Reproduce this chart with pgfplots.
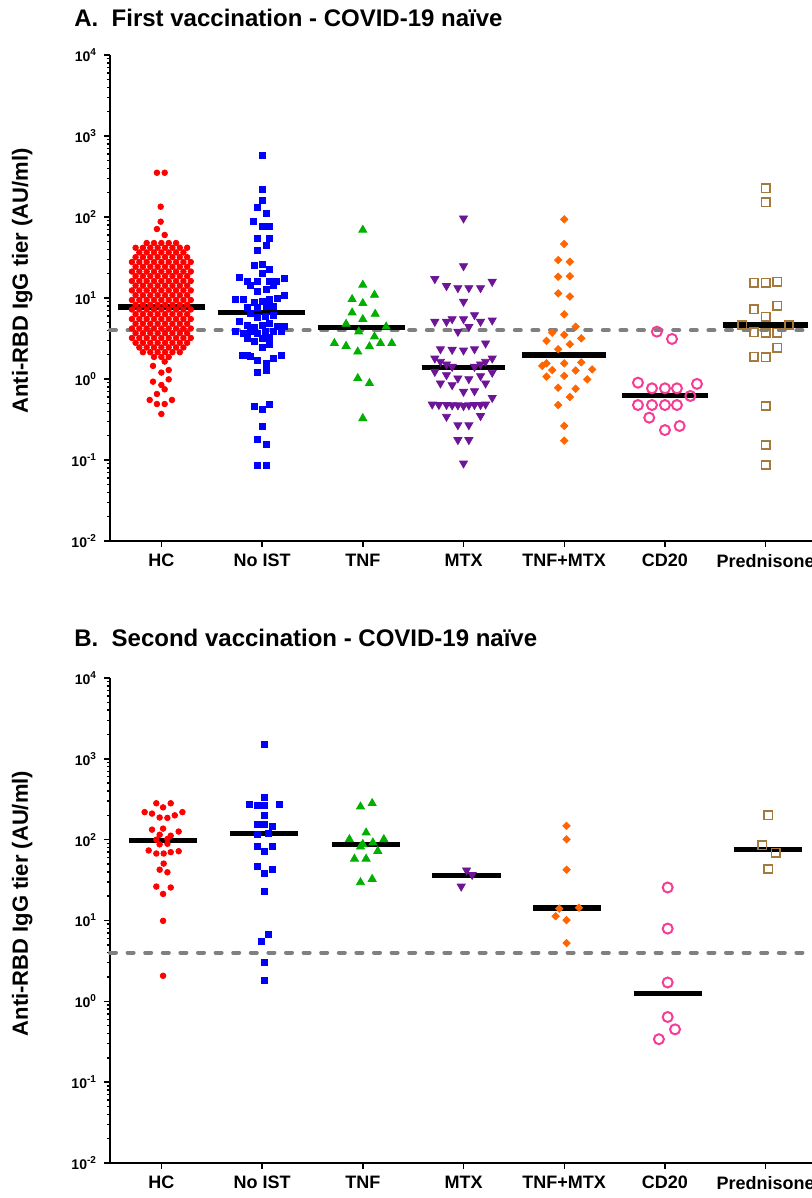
\documentclass[border=0pt]{standalone}
\usepackage{fontspec}
\setmainfont{Liberation Sans}
\usepackage{pgfplots}
\pgfplotsset{compat=1.18}

\definecolor{hc}{RGB}{255,0,0}
\definecolor{noist}{RGB}{0,0,255}
\definecolor{tnf}{RGB}{0,175,0}
\definecolor{mtx}{RGB}{110,20,150}
\definecolor{tnfmtx}{RGB}{255,102,0}
\definecolor{cdtwenty}{RGB}{245,60,150}
\definecolor{pred}{RGB}{165,120,60}
\definecolor{cutoff}{RGB}{128,128,128}

\pgfplotsset{
  medline/.style={black, line width=2.6pt, forget plot},
  cutline/.style={cutoff, line width=2pt, dash pattern=on 3pt off 5.8pt, line cap=round, forget plot},
  sHC/.style={only marks, mark=*, mark size=1.4pt, color=hc},
  sNO/.style={only marks, mark=square*, mark size=1.5pt, color=noist},
  sTNF/.style={only marks, mark=triangle*, mark size=2.3pt, color=tnf},
  sMTX/.style={only marks, mark=triangle*, mark size=2.3pt, color=mtx, mark options={rotate=180}},
  sTM/.style={only marks, mark=square*, mark size=1.3pt, color=tnfmtx, mark options={rotate=45}},
  sCD/.style={only marks, mark=o, mark size=2.5pt, color=cdtwenty, mark options={line width=1pt}},
  sPR/.style={only marks, mark=square, mark size=2.1pt, color=pred, mark options={line width=0.8pt}},
}

\begin{document}
\begin{tikzpicture}
% ---------------- A: first vaccination ----------------
\begin{axis}[
    at={(55pt,328.5pt)}, anchor=south west,
    scale only axis, width=351pt, height=243pt,
    ymode=log, ymin=1e-2, ymax=1e4,
    xmin=0.49, xmax=7.46,
    axis x line*=bottom, axis y line*=left,
    axis line style={line width=0.9pt, -},
    tick align=outside,
    major tick length=3pt, minor tick length=1.6pt,
    tick style={black, line width=0.7pt},
    xtick={1,2,3,4,5,6,7},
    xticklabels={HC,No IST,TNF,MTX,TNF+MTX,CD20,Prednisone},
    ytick={1e-2,1e-1,1,10,100,1000,10000},
    yticklabels={10\textsuperscript{-2},10\textsuperscript{-1},10\textsuperscript{0},10\textsuperscript{1},10\textsuperscript{2},10\textsuperscript{3},10\textsuperscript{4}},
    x tick label style={font=\bfseries\fontsize{9}{10}\selectfont},
    y tick label style={font=\bfseries\fontsize{7}{8}\selectfont},
    ylabel={Anti-RBD IgG tier (AU/ml)},
    ylabel style={at={(axis description cs:-0.125,0.535)}, anchor=center, font=\bfseries\fontsize{11}{12}\selectfont},
    clip=false,
]
\addplot[sHC] coordinates {
 (0.956,352) (1.033,352) (0.993,134) (0.993,87.5) (0.956,71) (1.033,60)
 (0.854,47.7) (0.927,47.7) (1,47.7) (1.073,47.7) (1.146,47.7)
 (0.744,41.7) (0.817,41.7) (0.890,41.7) (0.963,41.7) (1.037,41.7) (1.110,41.7) (1.183,41.7) (1.256,41.7)
 (0.781,36.5) (0.854,36.5) (0.927,36.5) (1,36.5) (1.073,36.5) (1.146,36.5) (1.219,36.5)
 (0.744,31.9) (0.817,31.9) (0.890,31.9) (0.963,31.9) (1.037,31.9) (1.110,31.9) (1.183,31.9) (1.256,31.9)
 (0.708,27.8) (0.781,27.8) (0.854,27.8) (0.927,27.8) (1,27.8) (1.073,27.8) (1.146,27.8) (1.219,27.8) (1.292,27.8)
 (0.744,24.3) (0.817,24.3) (0.890,24.3) (0.963,24.3) (1.037,24.3) (1.110,24.3) (1.183,24.3) (1.256,24.3)
 (0.708,21.2) (0.781,21.2) (0.854,21.2) (0.927,21.2) (1,21.2) (1.073,21.2) (1.146,21.2) (1.219,21.2) (1.292,21.2)
 (0.744,18.6) (0.817,18.6) (0.890,18.6) (0.963,18.6) (1.037,18.6) (1.110,18.6) (1.183,18.6) (1.256,18.6)
 (0.708,16.2) (0.781,16.2) (0.854,16.2) (0.927,16.2) (1,16.2) (1.073,16.2) (1.146,16.2) (1.219,16.2) (1.292,16.2)
 (0.744,14.2) (0.817,14.2) (0.890,14.2) (0.963,14.2) (1.037,14.2) (1.110,14.2) (1.183,14.2) (1.256,14.2)
 (0.708,12.4) (0.781,12.4) (0.854,12.4) (0.927,12.4) (1,12.4) (1.073,12.4) (1.146,12.4) (1.219,12.4) (1.292,12.4)
 (0.744,10.8) (0.817,10.8) (0.890,10.8) (0.963,10.8) (1.037,10.8) (1.110,10.8) (1.183,10.8) (1.256,10.8)
 (0.708,9.45) (0.781,9.45) (0.854,9.45) (0.927,9.45) (1,9.45) (1.073,9.45) (1.146,9.45) (1.219,9.45) (1.292,9.45)
 (0.744,8.25) (0.817,8.25) (0.890,8.25) (0.963,8.25) (1.037,8.25) (1.110,8.25) (1.183,8.25) (1.256,8.25)
 (0.708,7.21) (0.781,7.21) (0.854,7.21) (0.927,7.21) (1,7.21) (1.073,7.21) (1.146,7.21) (1.219,7.21) (1.292,7.21)
 (0.744,6.30) (0.817,6.30) (0.890,6.30) (0.963,6.30) (1.037,6.30) (1.110,6.30) (1.183,6.30) (1.256,6.30)
 (0.708,5.50) (0.781,5.50) (0.854,5.50) (0.927,5.50) (1,5.50) (1.073,5.50) (1.146,5.50) (1.219,5.50) (1.292,5.50)
 (0.744,4.81) (0.817,4.81) (0.890,4.81) (0.963,4.81) (1.037,4.81) (1.110,4.81) (1.183,4.81) (1.256,4.81)
 (0.708,4.20) (0.781,4.20) (0.854,4.20) (0.927,4.20) (1,4.20) (1.073,4.20) (1.146,4.20) (1.219,4.20) (1.292,4.20)
 (0.744,3.67) (0.817,3.67) (0.890,3.67) (0.963,3.67) (1.037,3.67) (1.110,3.67) (1.183,3.67) (1.256,3.67)
 (0.708,3.21) (0.781,3.21) (0.854,3.21) (0.927,3.21) (1,3.21) (1.073,3.21) (1.146,3.21) (1.219,3.21) (1.292,3.21)
 (0.744,2.80) (0.817,2.80) (0.890,2.80) (0.963,2.80) (1.037,2.80) (1.110,2.80) (1.183,2.80) (1.256,2.80)
 (0.781,2.45) (0.854,2.45) (0.927,2.45) (1,2.45) (1.073,2.45) (1.146,2.45) (1.219,2.45)
 (0.817,2.14) (0.890,2.14) (0.963,2.14) (1.037,2.14) (1.110,2.14) (1.183,2.14)
 (0.927,1.87) (1,1.87) (1.073,1.87)
 (0.917,1.45) (1.033,1.64) (1,1.20) (1.073,1.29) (0.917,0.927) (1.073,0.99) (1,0.843)
 (1.033,0.746) (0.956,0.653) (0.884,0.551) (0.956,0.491) (1.033,0.491) (1.105,0.551) (1,0.370)
};
\addplot[sNO] coordinates {
 (2,571) (2,222) (2,162) (1.95,130) (2.043,111) (1.917,89) (2,76) (2.076,76)
 (1.957,54.6) (2.076,54.6) (2.043,44.2) (1.957,38.4) (1.924,25.0) (2,26.3) (2.076,22.6) (2,20.2)
 (1.778,17.8) (1.851,16.2) (1.957,16.2) (2.076,15.9) (2.142,15.9) (2.222,17.5) (1.884,14.5) (1.957,12.0)
 (2.043,12.9) (2.116,14.5) (1.735,9.72) (1.811,9.72) (1.924,8.85) (2,9.0) (2.076,9.72) (2.149,9.9)
 (2.222,10.7) (1.851,7.68) (1.957,7.68) (2.043,7.81) (2.116,7.81) (1.884,6.47) (1.957,5.71) (2.033,5.88)
 (2.116,6.17) (1.778,5.10) (1.851,4.64) (1.924,4.30) (2,4.64) (2.076,4.87) (2.149,4.42) (2.222,4.42)
 (1.735,3.84) (1.811,3.67) (1.884,3.92) (1.957,3.67) (2.033,3.84) (2.116,3.84) (2.189,3.84) (1.851,3.18)
 (1.924,2.88) (2,3.18) (2.076,3.27) (2,2.46) (2.076,2.70) (1.801,1.94) (1.851,1.94) (1.884,1.88)
 (1.957,1.72) (2.043,1.56) (2.116,1.80) (2.189,1.94) (1.957,1.20) (2.043,1.26) (1.924,0.464) (2,0.423)
 (2.076,0.487) (2,0.258) (1.957,0.180) (2.043,0.158) (1.957,0.0867) (2.043,0.0867)
};
\addplot[sTNF] coordinates {
 (3,69.2) (3,14.5) (2.894,9.64) (3.116,10.9) (3,8.6) (2.894,6.59) (3.123,6.34) (3,5.46)
 (2.834,4.78) (3.232,4.42) (2.96,3.84) (3.116,3.33) (2.718,2.76) (2.834,2.55) (2.95,2.17) (3.066,2.52)
 (3.176,2.76) (3.288,2.76) (2.95,1.02) (3.066,0.885) (3,0.327)
};
\addplot[sMTX] coordinates {
 (4,96.4) (4,24.8) (3.715,17.2) (4.285,15.9) (3.831,14.1) (3.944,13.3) (4.053,13.3) (4.169,13.3) (4,9.0)
 (3.715,5.10) (3.831,5.10) (3.887,5.50) (4,5.50) (4.109,6.17) (4.169,5.10) (4.285,5.30)
 (4.053,4.42) (3.944,3.84) (4.219,2.76) (3.771,2.34) (3.887,2.30) (4,2.26) (4.109,2.34)
 (3.715,1.80) (4.285,1.80) (4.219,1.64) (3.771,1.64) (3.831,1.52) (4.169,1.52) (3.887,1.42) (4.109,1.42)
 (3.715,1.23) (4.285,1.20) (3.831,1.12) (4.169,1.09) (3.944,1.02) (4.053,1.00) (3.771,0.885) (3.887,0.843)
 (4.219,0.885) (4,0.697) (4.109,0.71)
 (3.689,0.487) (3.755,0.48) (3.831,0.48) (3.887,0.475) (3.944,0.475) (4,0.465) (4.053,0.475) (4.109,0.48)
 (4.169,0.48) (4.219,0.487) (4.285,0.587)
 (3.831,0.343) (4.169,0.35) (3.944,0.270) (4.053,0.270) (3.944,0.177) (4.053,0.177) (4,0.091)
};
\addplot[sTM] coordinates {
 (5,93.7) (5,46.4) (4.94,29.4) (5.056,28.0) (4.94,18.3) (5.056,18.6) (4.94,11.4) (5.056,10.4)
 (5,6.29) (5.113,4.42) (4.881,3.73) (5,3.5) (5.169,3.18) (4.824,2.95) (5.056,2.68) (4.94,2.33)
 (4.824,1.56) (5,1.56) (5.169,1.6) (4.781,1.45) (4.881,1.29) (5.113,1.27) (5.278,1.31) (4.824,1.07)
 (5,1.09) (5.229,0.99) (4.94,0.78) (5.113,0.76) (5.056,0.60) (4.94,0.477) (5,0.263) (5,0.173)
};
\addplot[sCD] coordinates {
 (5.92,3.84) (6.07,3.12) (5.732,0.90) (6.318,0.87) (5.871,0.767) (6,0.767) (6.119,0.767) (6.252,0.617)
 (5.732,0.477) (5.871,0.477) (6,0.477) (6.119,0.477) (5.844,0.333) (6,0.234) (6.146,0.263)
};
\addplot[sPR] coordinates {
 (7,226) (7,152) (6.884,15.5) (7,15.5) (7.116,15.8) (6.884,7.24) (7.116,8.04) (7,5.88)
 (6.768,4.64) (7.232,4.64) (6.884,3.77) (7,3.72) (7.116,3.72) (7.116,2.43) (6.884,1.88) (7,1.85)
 (7,0.464) (7,0.153) (7,0.0867)
};
\addplot[cutline] coordinates {(0.49,4) (7.46,4)};
\addplot[medline] coordinates {(0.569,7.74) (1.430,7.74)};
\addplot[medline] coordinates {(1.560,6.6) (2.425,6.6)};
\addplot[medline] coordinates {(2.554,4.3) (3.419,4.3)};
\addplot[medline] coordinates {(3.584,1.39) (4.412,1.39)};
\addplot[medline] coordinates {(4.578,1.98) (5.414,1.98)};
\addplot[medline] coordinates {(5.573,0.62) (6.428,0.62)};
\addplot[medline] coordinates {(6.577,4.64) (7.421,4.64)};
\end{axis}

% ---------------- B: second vaccination ----------------
\begin{axis}[
    at={(55pt,17.5pt)}, anchor=south west,
    scale only axis, width=351pt, height=242.5pt,
    ymode=log, ymin=1e-2, ymax=1e4,
    xmin=0.49, xmax=7.46,
    axis x line*=bottom, axis y line*=left,
    axis line style={line width=0.9pt, -},
    tick align=outside,
    major tick length=3pt, minor tick length=1.6pt,
    tick style={black, line width=0.7pt},
    xtick={1,2,3,4,5,6,7},
    xticklabels={HC,No IST,TNF,MTX,TNF+MTX,CD20,Prednisone},
    ytick={1e-2,1e-1,1,10,100,1000,10000},
    yticklabels={10\textsuperscript{-2},10\textsuperscript{-1},10\textsuperscript{0},10\textsuperscript{1},10\textsuperscript{2},10\textsuperscript{3},10\textsuperscript{4}},
    x tick label style={font=\bfseries\fontsize{9}{10}\selectfont},
    y tick label style={font=\bfseries\fontsize{7}{8}\selectfont},
    ylabel={Anti-RBD IgG tier (AU/ml)},
    ylabel style={at={(axis description cs:-0.125,0.535)}, anchor=center, font=\bfseries\fontsize{11}{12}\selectfont},
    clip=false,
]
\addplot[sHC] coordinates {
 (0.95,282) (1.093,282) (1.017,251) (0.834,219) (0.907,210) (1.133,200) (1.209,219) (0.983,188)
 (1.06,186) (0.907,133) (1.017,137) (1.172,126) (0.983,115) (1.093,112) (0.95,100) (1.06,102)
 (0.983,87.5) (1.06,89) (0.874,73.5) (0.95,67.4) (1.023,67.4) (1.093,70) (1.172,72)
 (1.023,50.6) (0.983,42.5) (1.06,39.5) (0.95,26.3) (1.093,25.6) (1.017,21.3) (1.017,9.9) (1.017,2.07)
};
\addplot[sNO] coordinates {
 (2.027,1527) (2.027,335) (1.874,270) (1.95,262) (2.027,264) (2.176,276) (2.027,200) (1.95,155)
 (2.027,155) (2.099,146) (1.95,115) (2.06,118) (1.95,81.7) (2.027,72.2) (2.099,81.7) (1.95,46.9)
 (2.027,37.9) (2.099,42.5) (2.027,22.9) (2.066,6.74) (1.993,5.51) (2.027,2.99) (2.027,1.79)
};
\addplot[sTNF] coordinates {
 (2.977,256) (3.093,282) (3.033,122) (2.867,101) (3.209,101) (3.0,88) (3.1,92) (2.977,81.7)
 (3.149,72.2) (2.917,57.9) (3.033,57.9) (2.977,29.6) (3.093,32.5)
};
\addplot[sMTX] coordinates {(4.03,41.8) (4.086,36.8) (3.977,26.4)};
\addplot[sTM] coordinates {
 (5.023,148) (5.023,101) (5.023,42.5) (5.146,14.4) (4.95,14.0) (4.914,11.3) (5.023,10.1) (5.023,5.26)
};
\addplot[sCD] coordinates {
 (6.027,25.6) (6.027,7.94) (6.027,1.71) (6.027,0.64) (6.1,0.45) (5.94,0.34)
};
\addplot[sPR] coordinates {(7.027,200) (6.967,84.9) (7.099,68.8) (7.027,43.4)};
\addplot[cutline] coordinates {(0.49,4) (7.46,4)};
\addplot[medline] coordinates {(0.678,97) (1.354,97)};
\addplot[medline] coordinates {(1.679,120) (2.358,120)};
\addplot[medline] coordinates {(2.690,88) (3.369,88)};
\addplot[medline] coordinates {(3.684,36) (4.370,36)};
\addplot[medline] coordinates {(4.688,14.3) (5.367,14.3)};
\addplot[medline] coordinates {(5.688,1.25) (6.368,1.25)};
\addplot[medline] coordinates {(6.682,75) (7.362,75)};
\end{axis}

\node[anchor=base west, inner sep=0pt, font=\bfseries\fontsize{12}{14}\selectfont]
  at (37pt,585.5pt) {A.\ \ First vaccination - COVID-19 naïve};
\node[anchor=base west, inner sep=0pt, font=\bfseries\fontsize{12}{14}\selectfont]
  at (37pt,275.5pt) {B.\ \ Second vaccination - COVID-19 naïve};

\pgfresetboundingbox
\path[use as bounding box] (0pt,0pt) rectangle (406pt,599pt);
\end{tikzpicture}
\end{document}
